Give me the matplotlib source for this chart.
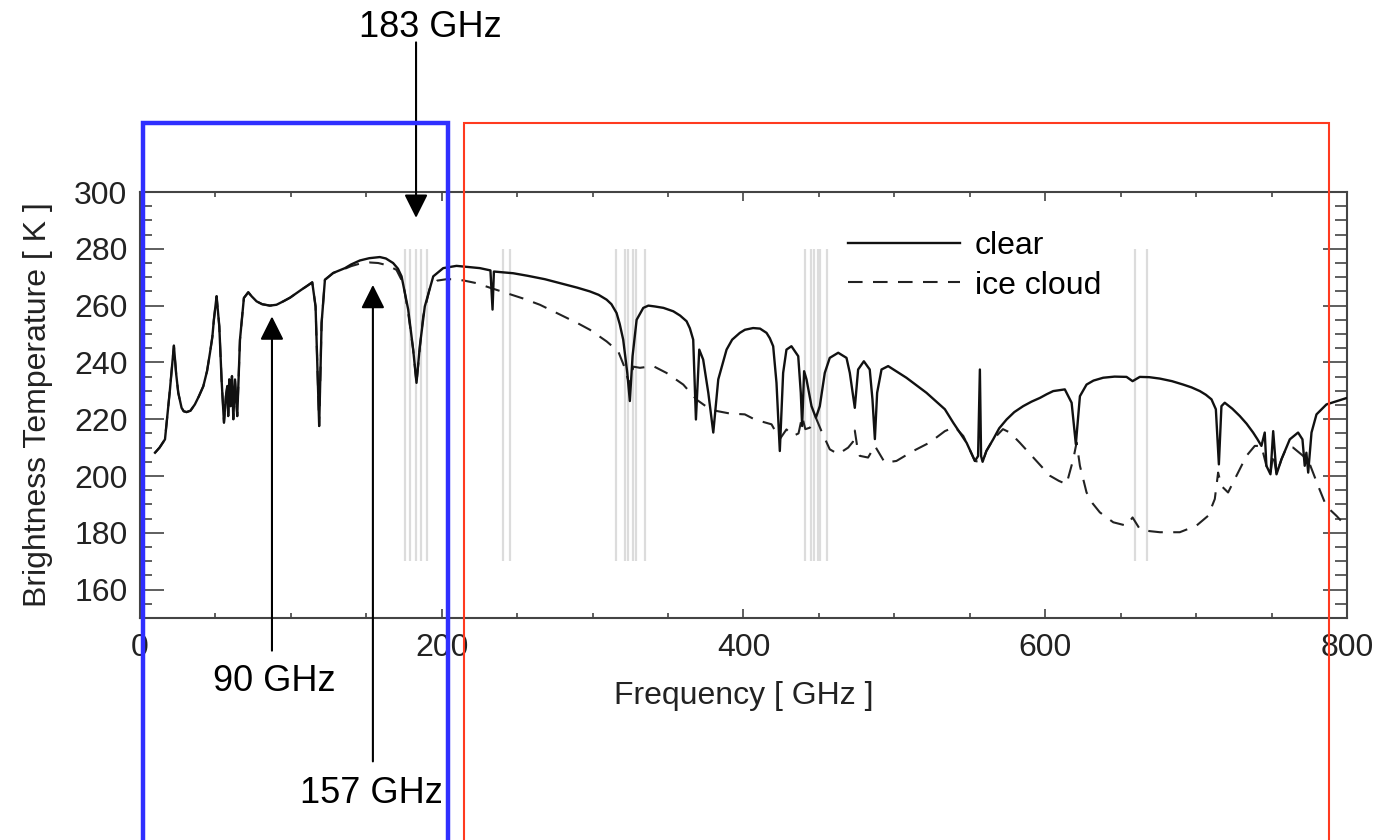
import matplotlib
matplotlib.use("Agg")
import matplotlib.pyplot as plt
import matplotlib.transforms as mtransforms
from matplotlib.patches import Rectangle
from matplotlib.ticker import MultipleLocator, FixedLocator

plt.rcParams['font.family'] = ['Liberation Sans', 'DejaVu Sans']

# clear-sky brightness temperature
clear_freq = [10, 13, 16.6, 19.9, 22.5, 24.0, 25.4, 27.6, 29.0, 30.9, 33.5, 36.4, 39.0, 42.0, 44.5,
              46.4, 48.0, 49.0, 50.8, 52.6, 54.1,
              55.7, 57.0, 57.9, 58.5, 59.2, 60.1, 61.0, 61.9, 63.0, 64.5, 66.3, 68.9, 71.8, 74.0,
              77.3, 81.0, 86.1, 90.5, 95.0, 99.5, 103.8, 107.0, 110.4, 114.2, 116.4, 118.8, 120.4,
              122.6, 128.1, 135.9, 140.0, 145.8, 152.0, 159.0, 163.0, 167.8, 171.0, 173.4, 177.8,
              181.1, 183.3, 185.5, 188.8, 194.4, 201.0, 209.8, 225.3,
              232.3, 233.7, 234.6, 247.4, 257.0, 268.4, 282.8, 290.0, 298.2, 304.0, 309.3, 312.5,
              315.9, 318.0, 320.3, 323.0, 324.7,
              326.5, 329.2, 333.6, 337.0, 341.3, 347.0, 353.5, 358.0, 362.3, 364.5, 366.7, 368.5,
              370.7, 373.3, 376.7, 380.0,
              383.3, 388.8, 392.5, 397.6, 401.0, 406.4, 411.0, 415.3, 417.5, 419.7, 421.9, 424.1,
              426.3, 428.5, 431.8, 436.3,
              438.0, 438.9, 440.2, 441.8, 445.1, 448.0, 450.6, 453.9, 457.2, 462.8, 468.3, 470.5,
              473.8, 476.0, 479.8, 483.7, 485.5, 487.1, 488.6, 491.5, 495.9, 508.0, 521.3, 533.5,
              539.0, 547.9, 553.4, 555.5, 556.7, 557.5, 558.5, 561.0, 565.5, 569.5, 574.4, 579.5,
              585.4, 591.0, 596.5, 601.0, 605.3,
              613.0, 617.5, 620.3, 623.0, 627.4, 632.0, 638.4, 646.0, 653.9, 657.9, 662.7, 669.0,
              676.0, 684.0, 691.4, 697.0, 702.5, 706.5,
              710.2, 713.1, 715.1, 716.8, 719.0, 724.0, 729.0, 733.5, 737.8, 740.6, 743.3, 745.5,
              746.6, 749.3, 751.1,
              753.3, 756.6, 762.1, 767.6, 770.5, 772.0, 773.1, 774.3, 776.5, 779.8, 786.4, 800]
clear_tb = [208.2, 210.0, 212.9, 230.5, 245.9, 236.0, 229.3, 224.0, 222.8, 222.5, 223.0, 225.2,
            228.0, 231.6, 237.0, 243.3, 249.0, 255.0, 263.3,
            252.7, 234.0, 218.8, 228.1, 231.7, 221.1, 234.0, 224.6, 235.2, 220.0, 234.0, 221.1,
            248.0, 262.7, 264.7, 263.3, 261.5, 260.5, 260.0, 260.3, 261.5, 262.8, 264.4, 265.6,
            266.8, 268.2, 259.7, 217.6, 253.9,
            269.1, 271.5, 273.2, 274.5, 275.9, 276.7, 277.1, 276.6, 275.0, 273.0, 270.3, 258.6,
            244.5, 232.8, 245.7, 259.7,
            270.3, 273.2, 274.0, 273.2, 272.4, 258.6, 272.0, 271.4, 270.5, 269.3, 267.3, 266.3,
            265.0, 263.8, 262.1, 260.5,
            257.4, 253.5, 248.0, 236.3, 226.4, 242.2, 255.0, 259.2, 260.0, 259.7, 259.2, 258.0,
            256.5, 254.5, 252.0, 248.0, 219.9,
            244.5, 241.0, 229.3, 215.3, 234.0, 244.5, 248.0, 250.4, 251.5, 252.1, 251.9, 250.4,
            248.5, 245.7, 232.8, 208.8,
            236.3, 244.5, 245.7, 242.2, 229.3, 217.6, 236.9, 234.0, 224.6, 220.5, 224.6, 236.3,
            241.6, 243.4, 241.6, 236.3, 224.0, 237.5, 240.4, 237.5, 227.0, 213.0, 229.3, 237.5,
            238.7, 234.6, 229.3, 223.5, 218.8, 211.7, 205.3, 207.0, 237.5, 207.0, 205.0, 208.8,
            212.9, 216.8, 219.9, 222.5, 224.6, 226.2, 227.5, 228.8, 229.9, 230.5, 225.8, 211.2,
            228.1, 232.2, 233.6, 234.6, 235.0, 234.9, 233.4,
            234.9, 234.8, 234.3, 233.4, 232.2, 231.2, 229.9, 228.6, 227.0, 223.5, 204.1, 224.6,
            225.8, 223.7, 221.1, 218.4, 215.3, 213.0, 210.6,
            215.3, 203.6, 200.6, 215.8, 200.6, 205.9, 212.9, 215.3, 212.9, 203.6, 208.2, 201.2,
            215.3, 221.7, 225.2, 227.5]

# ice cloud brightness temperature
ice_freq = [10, 13, 16.6, 19.9, 22.5, 24.0, 25.4, 27.6, 29.0, 30.9, 33.5, 36.4, 39.0, 42.0, 44.5,
            46.4, 48.0, 49.0, 50.8, 52.6, 54.1,
            55.7, 57.0, 57.9, 58.5, 59.2, 60.1, 61.0, 61.9, 63.0, 64.5, 66.3, 68.9, 71.8, 74.0,
            77.3, 81.0, 86.1, 90.5, 95.0, 99.5, 103.8, 107.0, 110.4, 114.2, 116.4, 118.8, 120.4,
            122.6, 128.1, 135.9, 140.0, 145.8,
            152.0, 157.9, 164.0, 170.0, 174.5, 177.8, 181.1, 183.3, 185.5, 187.7, 192.1, 197.0,
            203.2, 208.7, 215.0, 223.1,
            232.0, 243.0, 254.0, 265.1, 274.0, 282.8, 290.5, 298.2, 309.3, 317.0, 321.4, 324.5,
            327.0, 331.4, 340.2, 349.0,
            360.1, 368.9, 375.0, 382.2, 391.0, 400.9, 406.4, 412.0, 418.6, 424.1, 428.5, 432.9,
            436.5, 438.9,
            441.0, 444.0, 448.0, 451.7, 457.2, 462.8, 469.4, 472.5, 473.8, 475.5, 477.1, 482.6,
            487.1, 493.7, 501.4, 512.5, 523.5, 533.5, 540.1, 545.7, 547.9, 553.4, 556.0, 558.5,
            561.0, 565.5, 572.0, 576.6, 583.2, 592.1, 597.5, 603.1, 609.0, 614.1, 618.6, 620.8,
            623.0, 627.4, 631.5, 636.2,
            645.1, 653.9, 657.9, 662.7, 669.0, 676.0, 689.2, 700.2, 708.0, 712.4, 714.6, 716.8,
            721.2, 726.8, 733.4, 738.9, 743.3, 746.6, 749.3, 751.1, 753.3, 756.6, 759.9, 764.3,
            770.9, 775.4, 780.9, 785.3, 789.0, 793.0, 800]
ice_tb = [208.2, 210.0, 212.9, 230.5, 245.9, 236.0, 229.3, 224.0, 222.8, 222.5, 223.0, 225.2,
          228.0, 231.6, 237.0, 243.3, 249.0, 255.0, 263.3,
          252.7, 234.0, 218.8, 228.1, 231.7, 221.1, 234.0, 224.6, 235.2, 220.0, 234.0, 221.1,
          248.0, 262.7, 264.7, 263.3, 261.5, 260.5, 260.0, 260.3, 261.5, 262.8, 264.4, 265.6,
          266.8, 268.2, 259.7, 217.6, 253.9,
          269.1, 271.5, 273.0, 273.9, 274.8,
          275.2, 275.0, 274.2, 272.6, 267.9, 257.4, 244.5, 232.8, 245.0, 256.2, 266.2, 268.8,
          269.3, 269.3, 268.8, 267.9,
          266.3, 264.4, 262.5, 260.3, 258.0, 255.7, 253.7, 251.5, 247.4, 243.9, 238.0, 232.0,
          238.5, 238.1, 238.7, 236.3,
          232.2, 226.9, 224.6, 222.9, 222.0, 221.7, 220.2, 219.2, 218.2, 213.0, 216.4, 214.1,
          215.0, 221.0,
          216.5, 217.0, 220.5, 215.8, 209.4, 207.7, 210.0, 212.0, 216.0, 210.0, 207.1, 206.5,
          210.6, 204.7, 205.3, 208.8, 211.8, 215.8, 217.3, 214.1, 211.7, 205.3, 205.0, 205.0,
          208.8, 212.9, 216.5, 215.3, 211.7, 206.5, 203.4, 200.1, 198.3, 197.1, 205.9, 211.8,
          203.6, 194.2, 190.3, 187.2,
          183.7, 182.5, 185.4, 181.3, 180.6, 180.2, 180.2, 182.5, 186.0, 191.9, 201.2, 196.5,
          194.2, 200.1, 207.1, 210.6, 210.6, 203.6, 200.6, 208.0, 200.6, 205.9, 210.0, 210.0,
          207.1, 204.1, 196.5, 190.7, 188.0, 186.0, 182.0]

# sounding channel positions (grey lines)
channels = [175.6, 179.3, 182.8, 186.6, 190.5,
            240.8, 245.6,
            315.6, 321.6, 323.6, 326.6, 328.6, 334.6,
            440.8, 445.0, 446.6, 449.4, 451.0, 455.2,
            659.6, 667.6]

# arrow annotations: label, frequency, tip, tail, text position
ann_labels = ['183 GHz', '90 GHz', '157 GHz']
ann_freq = [183, 87.5, 154.4]
ann_tip = [290.9, 256.2, 267.3]
ann_tail = [352.7, 138.5, 99.5]
ann_text_x = [192.2, 88.8, 153.7]
ann_text_y = [357.9, 127.6, 88.3]

# highlighted frequency bands
bands = [(2.0, 204.1), (214.7, 787.9)]
band_colors = ['#2f2fff', '#ff3a1f']
band_widths = [3.2, 1.5]

fig = plt.figure(figsize=(13.76, 8.4), dpi=100)
ax = fig.add_axes([0.1017, 0.2643, 0.8772, 0.5071])

ax.vlines(channels, 170, 280, color='#dcdcdc', lw=1.6, zorder=1)
ax.plot(clear_freq, clear_tb, color='#111111', lw=1.7, label='clear', zorder=3)
ax.plot(ice_freq, ice_tb, color='#222222', lw=1.5, dashes=(7, 5), label='ice cloud', zorder=2)

ax.set_xlim(0, 800)
ax.set_ylim(150, 300)
ax.xaxis.set_major_locator(MultipleLocator(200))
ax.xaxis.set_minor_locator(MultipleLocator(50))
ax.yaxis.set_major_locator(FixedLocator(range(160, 301, 20)))
ax.yaxis.set_minor_locator(MultipleLocator(5))

ax.tick_params(which='both', direction='in', top=True, right=True, colors='#333333', width=1.1)
ax.tick_params(axis='y', which='major', length=17, pad=9, labelsize=23, labelcolor='#222222')
ax.tick_params(axis='y', which='minor', length=8.5)
ax.tick_params(axis='x', which='major', length=6.5, pad=11, labelsize=23, labelcolor='#222222')
ax.tick_params(axis='x', which='minor', length=3.5)
for s in ax.spines.values():
    s.set_color('#444444')
    s.set_linewidth(1.5)

ax.set_xlabel('Frequency [ GHz ]', fontsize=23, color='#222222', labelpad=13)
ax.set_ylabel('Brightness Temperature [ K ]', fontsize=23, color='#222222', labelpad=15)

ax.legend(loc='upper left', bbox_to_anchor=(0.5866, 0.9076), frameon=False, fontsize=23,
          handlelength=3.5, handletextpad=0.47, labelspacing=0.29, borderpad=0, borderaxespad=0)

for lab, f, tip, tail, tx, ty in zip(ann_labels, ann_freq, ann_tip, ann_tail, ann_text_x, ann_text_y):
    ax.annotate('', xy=(f, tip), xytext=(f, tail), annotation_clip=False,
                arrowprops=dict(arrowstyle='-|>,head_length=1.0,head_width=0.5', mutation_scale=14.4,
                                color='black', lw=1.5, shrinkA=0, shrinkB=0))
    ax.text(tx, ty, lab, fontsize=26, ha='center', va='center', clip_on=False)

trans = mtransforms.blended_transform_factory(ax.transData, ax.transAxes)
for (x0, x1), c, w in zip(bands, band_colors, band_widths):
    ax.add_patch(Rectangle((x0, -1.0), x1 - x0, 2.162, transform=trans, fill=False,
                           edgecolor=c, lw=w, clip_on=False, zorder=5))

fig.savefig('out.png', dpi=100)
